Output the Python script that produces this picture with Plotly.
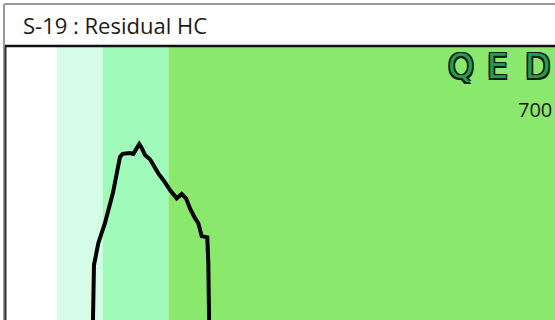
import plotly.graph_objects as go

# Retention-time bands (boundaries in minutes) and their fill colours
band_edges = [0.0, 1.0, 1.92, 3.24, 11.0]
band_colors = ["#ffffff", "#d4fce6", "#a0fbba", "#8ae86c"]

# Residual hydrocarbon trace: retention time (min) vs detector response
rt = [1.720, 1.746, 1.833, 1.967, 2.127, 2.268, 2.322, 2.469, 2.535, 2.603,
      2.655, 2.704, 2.770, 2.870, 2.937, 3.037, 3.137, 3.272, 3.406, 3.507,
      3.593, 3.673, 3.774, 3.840, 3.908, 4.020, 4.041, 4.061]
response = [-40, 141, 197, 249, 326, 418, 426, 428, 426, 441,
            451, 441, 423, 412, 397, 376, 359, 333, 312, 323,
            312, 286, 261, 248, 215, 212, 146, -40]

title_text = "S-19 : Residual HC"
scale_label = "700"
logo_letters = ["Q", "E", "D"]
y_max = 700
x_max = band_edges[-1]

W, H = 555, 320
ML, MT = 7, 47
plot_w, plot_h = W - ML, H - MT


def px_to_paper_x(px):
    return (px - ML) / plot_w


def py_to_paper_y(py):
    return (H - py) / plot_h


fig = go.Figure()

fig.add_trace(go.Scatter(
    x=rt, y=response, mode="lines",
    line=dict(color="#000000", width=4),
    hoverinfo="skip", showlegend=False,
))

shapes = []
for i, col in enumerate(band_colors):
    shapes.append(dict(
        type="rect", xref="x", yref="paper",
        x0=band_edges[i], x1=band_edges[i + 1], y0=0, y1=1,
        fillcolor=col, line=dict(width=0), layer="below",
    ))

# outer frame (grey) and plot border (black)
shapes.append(dict(type="line", xref="paper", yref="paper",
                   x0=px_to_paper_x(4), x1=px_to_paper_x(4),
                   y0=0, y1=py_to_paper_y(4),
                   line=dict(color="#9a9a9a", width=2)))
shapes.append(dict(type="line", xref="paper", yref="paper",
                   x0=px_to_paper_x(4), x1=1.02,
                   y0=py_to_paper_y(4), y1=py_to_paper_y(4),
                   line=dict(color="#9a9a9a", width=2)))
shapes.append(dict(type="line", xref="paper", yref="paper",
                   x0=px_to_paper_x(5), x1=1.02, y0=1.004, y1=1.004,
                   line=dict(color="#111111", width=2.5)))
shapes.append(dict(type="line", xref="paper", yref="paper",
                   x0=px_to_paper_x(5.5), x1=px_to_paper_x(5.5), y0=0, y1=1,
                   line=dict(color="#333333", width=2)))

annotations = [
    dict(text=title_text, xref="paper", yref="paper",
         x=px_to_paper_x(21), y=py_to_paper_y(24.5),
         xanchor="left", yanchor="middle", showarrow=False,
         font=dict(family="Open Sans", size=22, color="#1a1a1a")),
    dict(text=scale_label, xref="paper", yref="paper",
         x=px_to_paper_x(554), y=py_to_paper_y(109.5),
         xanchor="right", yanchor="middle", showarrow=False,
         font=dict(family="Open Sans", size=20, color="#1a1a1a")),
]

# logo letters, spaced out wide
logo_centers = [461, 497.5, 537]
outline = "#04200f"
for letter, cx in zip(logo_letters, logo_centers):
    annotations.append(dict(
        text=letter, xref="paper", yref="paper",
        x=px_to_paper_x(cx), y=py_to_paper_y(66),
        xanchor="center", yanchor="middle", showarrow=False,
        font=dict(family="DejaVu Sans", size=33, color="#2a9a52",
                  shadow=f"1.5px 1.5px 0 {outline}, -1.5px -1.5px 0 {outline}, "
                         f"1.5px -1.5px 0 {outline}, -1.5px 1.5px 0 {outline}, "
                         f"0 1.5px 0 {outline}, 0 -1.5px 0 {outline}"),
    ))

fig.update_layout(
    width=W, height=H,
    margin=dict(l=ML, r=0, t=MT, b=0, pad=0),
    paper_bgcolor="#ffffff", plot_bgcolor="#ffffff",
    xaxis=dict(range=[0, x_max], visible=False, fixedrange=True),
    yaxis=dict(range=[0, y_max], visible=False, fixedrange=True),
    shapes=shapes, annotations=annotations,
)

fig.write_html("out.html", config={"displayModeBar": False})
